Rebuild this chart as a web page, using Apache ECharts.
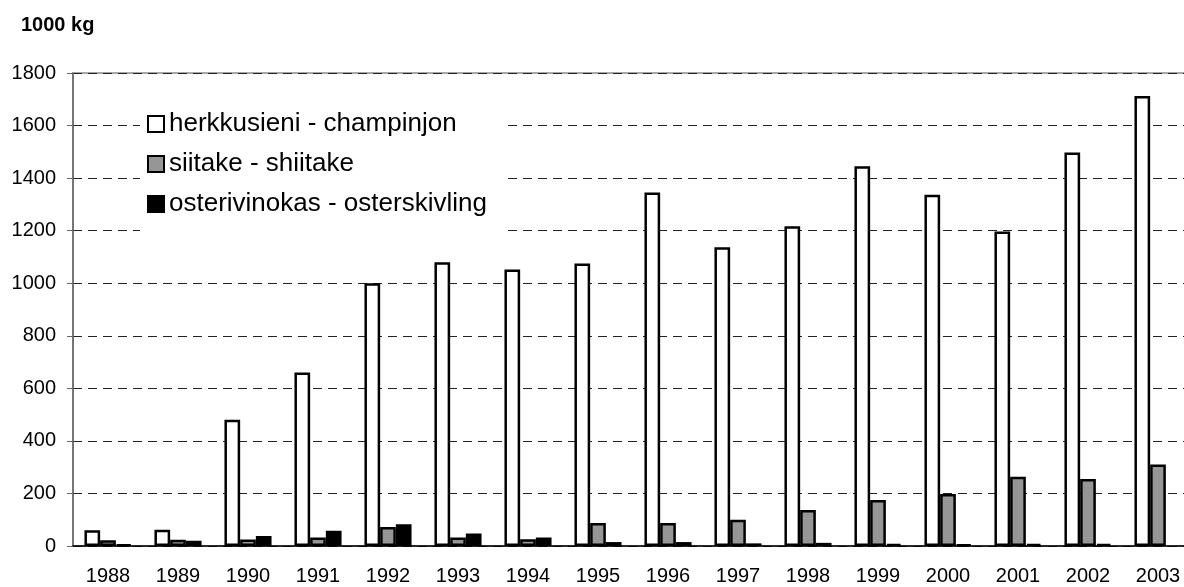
<!DOCTYPE html>
<html>
<head>
<meta charset="utf-8">
<script src="https://cdn.jsdelivr.net/npm/echarts@6/dist/echarts.min.js"></script>
<style>
    html, body { margin: 0; padding: 0; background: #fff; overflow: hidden; }
    #sienet { width: 1200px; height: 587px; }
</style>
</head>
<body>
<div id="sienet"></div>
<script>
// vuodet
let years = ['1988','1989','1990','1991','1992','1993','1994','1995','1996','1997','1998','1999','2000','2001','2002','2003'];
// 1000 kg
let herkkusieni = [60, 62, 480, 660, 1000, 1080, 1052, 1075, 1345, 1137, 1217, 1445, 1337, 1197, 1497, 1712];
let siitake = [22, 24, 25, 32, 72, 32, 26, 88, 88, 100, 137, 175, 198, 264, 255, 310];
let osterivinokas = [5, 20, 38, 58, 83, 48, 32, 15, 15, 10, 12, 7, 5, 8, 8, null];
let yTicks = { min: 0, max: 1800, interval: 200 };

var chartDom = document.getElementById("sienet");
var myChart = echarts.init(chartDom);
var font = "'Liberation Sans', Arial, sans-serif";

function barSeries(name, data, fill) {
    return {
        name: name,
        type: "bar",
        data: data,
        barWidth: 15.7,
        barGap: "0%",
        itemStyle: {
            color: fill,
            borderColor: "#000",
            borderWidth: 2.5,
        },
        emphasis: { disabled: true },
    };
}

var option = {
    animation: false,
    textStyle: { fontFamily: font },
    title: {
        text: "1000 kg",
        left: 21,
        top: 15,
        padding: 0,
        textStyle: {
            fontFamily: font,
            fontSize: 20,
            fontWeight: "bold",
            color: "#000",
        },
    },
    legend: {
        orient: "vertical",
        left: 140,
        top: 95,
        padding: [16, 20, 14, 7],
        backgroundColor: "#fff",
        icon: "rect",
        itemWidth: 16,
        itemHeight: 16,
        itemGap: 14,
        itemStyle: { borderColor: "#000", borderWidth: 2 },
        textStyle: {
            fontFamily: font,
            fontSize: 26,
            lineHeight: 26,
            color: "#000",
        },
        z: 10,
    },
    grid: {
        left: 73,
        top: 73,
        width: 1120,
        height: 473,
        show: true,
        borderColor: "#8a8a8a",
        borderWidth: 1.5,
    },
    xAxis: {
        type: "category",
        data: years,
        axisLine: { lineStyle: { color: "#000", width: 1.5 } },
        axisTick: { length: 6, lineStyle: { color: "#000" } },
        axisLabel: {
            color: "#000",
            fontSize: 20,
            fontFamily: font,
            margin: 20,
        },
    },
    yAxis: {
        type: "value",
        min: yTicks.min,
        max: yTicks.max,
        interval: yTicks.interval,
        axisLine: { show: true, lineStyle: { color: "#666", width: 1.5 } },
        axisTick: { show: true, length: 6, lineStyle: { color: "#666" } },
        axisLabel: {
            color: "#000",
            fontSize: 20,
            fontFamily: font,
            margin: 17,
            formatter: function (v) { return String(v); },
        },
        splitLine: {
            lineStyle: { color: "#222", type: [9, 6], width: 1 },
        },
    },
    series: [
        barSeries("herkkusieni - champinjon", herkkusieni, "#fff"),
        barSeries("siitake - shiitake", siitake, "#969696"),
        barSeries("osterivinokas - osterskivling", osterivinokas, "#000"),
    ],
};

option && myChart.setOption(option);
</script>
</body>
</html>
